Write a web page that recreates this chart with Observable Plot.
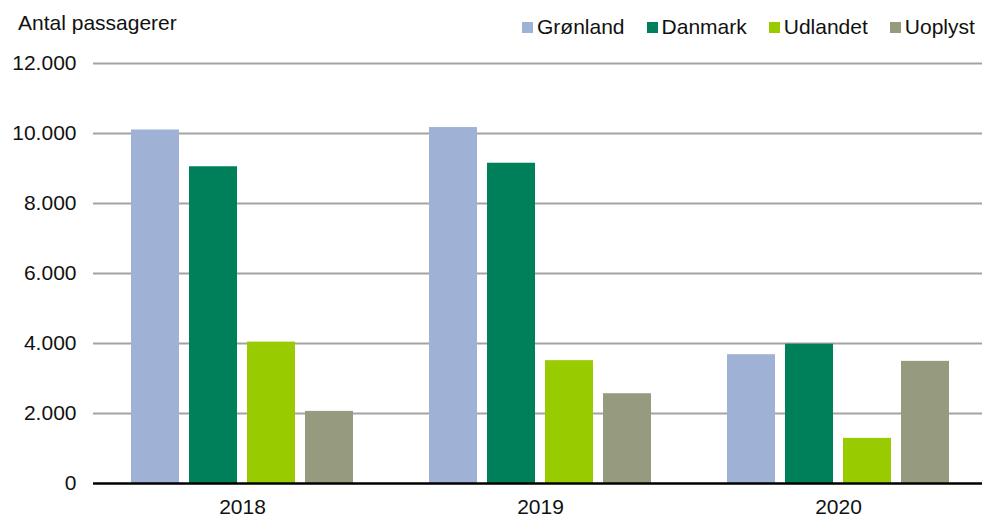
<!DOCTYPE html>
<html>
<head>
<meta charset="utf-8">
<script src="https://cdn.jsdelivr.net/npm/d3@7"></script>
<script src="https://cdn.jsdelivr.net/npm/@observablehq/plot@0.6"></script>
<style>
  html, body { margin: 0; padding: 0; background: #fff; overflow: hidden; }
  #wrap { position: relative; width: 982px; height: 517px; overflow: hidden; font-family: "Liberation Sans", Arial, sans-serif; }
  #ylabel { position: absolute; left: 18px; top: 12px; font-size: 21px; line-height: 22px; color: #111; }
  #legend { position: absolute; left: 522px; top: 16px; display: flex; align-items: center; font-size: 21px; line-height: 22px; color: #111; }
  .item { display: flex; align-items: center; margin-right: 22px; }
  .item:last-child { margin-right: 0; }
  .sw { width: 11px; height: 11px; margin-right: 4px; }
</style>
</head>
<body>
<div id="wrap">
  <div id="chart"></div>
  <div id="ylabel"></div>
  <div id="legend"></div>
</div>
<script>
const years = ["2018", "2019", "2020"];
const categories = ["Grønland", "Danmark", "Udlandet", "Uoplyst"];
const colors = ["#9FB1D5", "#00805A", "#99CC00", "#969A7E"];
const groenland = [10100, 10170, 3680];
const danmark = [9050, 9150, 3980];
const udlandet = [4040, 3510, 1290];
const uoplyst = [2060, 2565, 3490];
const yTicks = [0, 2000, 4000, 6000, 8000, 10000, 12000];
const yTitle = "Antal passagerer";

const series = [groenland, danmark, udlandet, uoplyst];
const data = [];
years.forEach((yr, i) => {
  categories.forEach((c, j) => data.push({year: yr, cat: c, value: series[j][i]}));
});

const fmt = d => d3.format(",")(d).replace(/,/g, ".");

const chart = Plot.plot({
  width: 982,
  height: 517,
  marginLeft: 92,
  marginRight: -5,
  marginTop: 63,
  marginBottom: 34,
  style: {fontFamily: "'Liberation Sans', Arial, sans-serif", fontSize: "21px", color: "#111", background: "#fff", overflow: "hidden"},
  fx: {domain: years, padding: 0, label: null, axis: "bottom", tickSize: 0, tickPadding: 16},
  x: {domain: categories, paddingInner: 0.165, paddingOuter: 0.64, axis: null},
  y: {domain: [0, 12000], ticks: yTicks, tickFormat: fmt, tickSize: 0, tickPadding: 17, label: null},
  color: {domain: categories, range: colors},
  marks: [
    Plot.ruleY(yTicks.filter(d => d > 0), {stroke: "#A3A3A3", strokeWidth: 2}),
    Plot.barY(data, {fx: "year", x: "cat", y: "value", fill: "cat"}),
    Plot.ruleY([0], {stroke: "#000", strokeWidth: 2.5})
  ]
});
document.getElementById("chart").appendChild(chart);

document.getElementById("ylabel").textContent = yTitle;
const leg = document.getElementById("legend");
categories.forEach((c, i) => {
  const it = document.createElement("div");
  it.className = "item";
  const sw = document.createElement("div");
  sw.className = "sw";
  sw.style.background = colors[i];
  const t = document.createElement("span");
  t.textContent = c;
  it.appendChild(sw); it.appendChild(t);
  leg.appendChild(it);
});
</script>
</body>
</html>
